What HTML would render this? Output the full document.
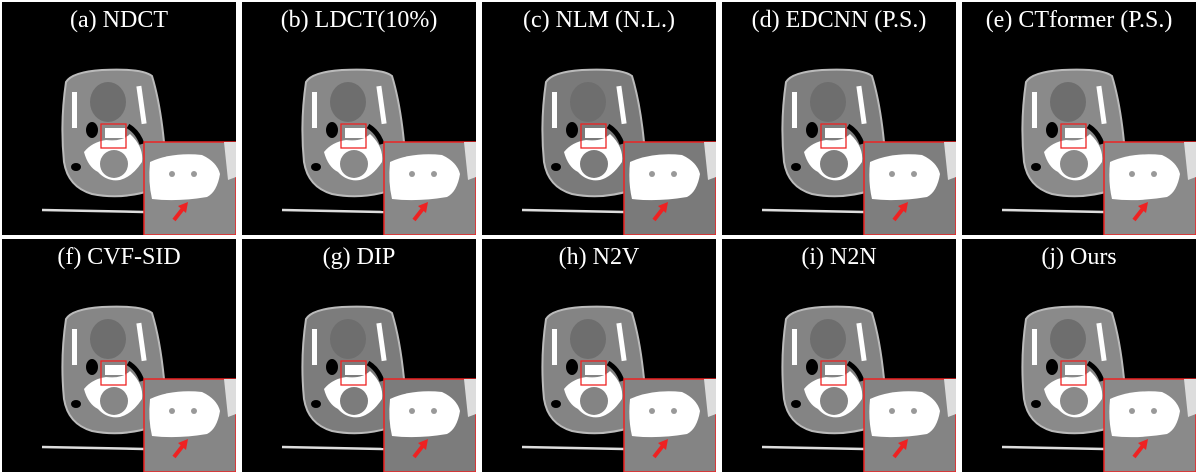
<!DOCTYPE html>
<html><head><meta charset="utf-8"><style>
html,body{margin:0;padding:0;background:#fff;width:1196px;height:473px;overflow:hidden}
#fig{position:relative;width:1196px;height:473px;background:#fff}
.panel{position:absolute;width:234px;height:233px;background:#000;overflow:hidden}
.title{position:absolute;left:0;right:0;top:5px;text-align:center;color:#fff;font:24px "Liberation Serif",serif}
svg{position:absolute;left:0;top:0}
</style></head><body>
<div id="fig"></div>
<script>
const titles=["(a) NDCT","(b) LDCT(10%)","(c) NLM (N.L.)","(d) EDCNN (P.S.)","(e) CTformer (P.S.)","(f) CVF-SID","(g) DIP","(h) N2V","(i) N2N","(j) Ours"];
const tissue=["#8a8a8a","#888","#7a7a7a","#7e7e7e","#8a8a8a","#868686","#7c7c7c","#848484","#848484","#8a8a8a"];
const fig=document.getElementById('fig');
titles.forEach((t,i)=>{
  const c=i%5,r=Math.floor(i/5);
  const p=document.createElement('div');
  p.className='panel';
  
  
  p.style.left=(2+c*240)+'px';p.style.top=(2+r*237)+'px';
  const g=tissue[i];
  p.innerHTML=`<svg width="234" height="233">
<line x1="40" y1="208" x2="142" y2="210" stroke="#ddd" stroke-width="2.5"/>
<path d="M64 80 Q70 70 100 68 Q140 66 150 74 Q158 100 162 140 Q162 175 150 188 Q120 198 90 192 Q66 185 62 160 Q58 120 64 80Z" fill="${g}" stroke="#bbb" stroke-width="2"/>
<ellipse cx="106" cy="100" rx="18" ry="20" fill="#6e6e6e"/>
<rect x="70" y="90" width="5" height="36" fill="#fff"/>
<rect x="137" y="84" width="5" height="38" fill="#fff" transform="rotate(-8 139 103)"/>
<path d="M82 150 Q90 140 104 138 Q120 140 128 132 Q142 145 140 160 Q130 175 118 178 Q105 180 96 170 Q86 165 82 150Z" fill="#fff"/>
<ellipse cx="112" cy="162" rx="14" ry="14" fill="${g}"/>
<ellipse cx="90" cy="128" rx="6" ry="8" fill="#000"/>
<path d="M126 124 Q136 130 140 142" stroke="#000" stroke-width="5" fill="none"/>
<rect x="103" y="126" width="20" height="10" fill="#fff"/>
<rect x="99" y="122" width="25" height="24" fill="none" stroke="#e22" stroke-width="1.3"/>
<ellipse cx="74" cy="165" rx="5" ry="4" fill="#000"/>
<rect x="142" y="140" width="92" height="93" fill="${g}" stroke="#e22" stroke-width="1.5"/>
<path d="M148 160 Q170 150 200 153 Q215 160 218 172 Q215 190 205 195 Q175 200 150 197 Q146 180 148 160Z" fill="#fff"/>
<path d="M222 140 L234 140 L234 175 L226 178Z" fill="#ddd"/>
<circle cx="170" cy="172" r="3" fill="#999"/><circle cx="192" cy="172" r="3" fill="#999"/>
<line x1="172" y1="218" x2="183" y2="204" stroke="#e22" stroke-width="4"/>
<polygon points="186,200 176,204 184,211" fill="#e22"/>
</svg><div class="title">${t}</div>`;
  fig.appendChild(p);
});
</script>
</body></html>
